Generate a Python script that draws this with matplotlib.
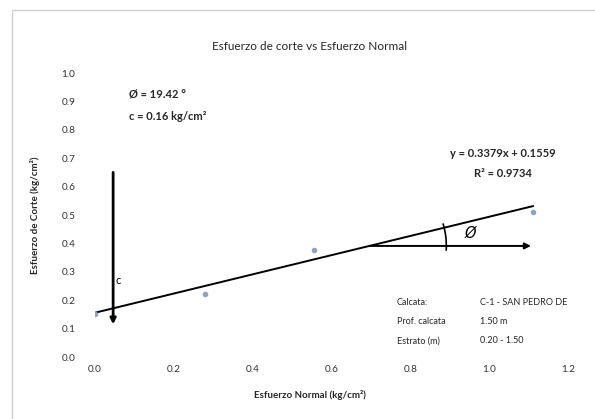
import numpy as np
import matplotlib
matplotlib.use("Agg")
import matplotlib.pyplot as plt
from matplotlib.patches import Arc, Rectangle

# Direct shear test results
normal_stress = [0.0, 0.278, 0.556, 1.111]      # kg/cm2
shear_stress = [0.151, 0.222, 0.377, 0.511]     # kg/cm2

# Linear trend (Mohr-Coulomb envelope)
slope = 0.3379
intercept = 0.1559
r2 = 0.9734
phi_deg = 19.42
cohesion = 0.16

x_ticks = [0.0, 0.2, 0.4, 0.6, 0.8, 1.0, 1.2]
y_ticks = [0.0, 0.1, 0.2, 0.3, 0.4, 0.5, 0.6, 0.7, 0.8, 0.9, 1.0]

info_labels = ["Calcata:", "Prof. calcata", "Estrato (m)"]
info_values = ["C-1 - SAN PEDRO DE", "1.50 m", "0.20 - 1.50"]

plt.rcParams["font.family"] = ["Lato", "DejaVu Sans"]
txt = "#262626"

fig = plt.figure(figsize=(5.95, 4.19), dpi=100)
fig.patch.set_facecolor("white")
# chart frame
fig.patches.append(Rectangle((12 / 595, -0.1), 1.2, 1 - 10 / 419 + 0.1,
                             transform=fig.transFigure, fill=False,
                             edgecolor="#d0d0d0", linewidth=1.0))

ax = fig.add_axes([95 / 595, 1 - 357 / 419, (568 - 95) / 595, (357 - 73) / 419])
ax.set_xlim(0, 1.2)
ax.set_ylim(0, 1.0)
for s in ax.spines.values():
    s.set_visible(False)
ax.set_xticks(x_ticks)
ax.set_yticks(y_ticks)
ax.set_xticklabels([f"{v:.1f}" for v in x_ticks])
ax.set_yticklabels([f"{v:.1f}" for v in y_ticks])
ax.tick_params(length=0, labelsize=7.2, colors="#333333", pad=6)
ax.tick_params(axis="y", pad=14)

# trend line
xs = np.array([min(normal_stress), max(normal_stress)])
ax.plot(xs, slope * xs + intercept, color="black", lw=1.4, zorder=2)
# measured points
ax.plot(normal_stress, shear_stress, "o", color="#8fa3bb", ms=3, zorder=3)

# cohesion arrow
ax.annotate("", xy=(0.046, 0.115), xytext=(0.046, 0.65),
            arrowprops=dict(arrowstyle="-|>", color="black", lw=2.0,
                            mutation_scale=8, shrinkA=0, shrinkB=0))
ax.text(0.052, 0.27, "c", fontsize=8, color="black", ha="left", va="center")

# friction angle construction
x0 = 0.696
y0 = slope * x0 + intercept
ax.annotate("", xy=(1.106, y0), xytext=(x0, y0),
            arrowprops=dict(arrowstyle="-|>", color="black", lw=1.4,
                            mutation_scale=9, shrinkA=0, shrinkB=0))
r_px = 77
px_per_x = ax.get_position().width * 595 / 1.2
px_per_y = ax.get_position().height * 419 / 1.0
ax.add_patch(Arc((x0, y0), 2 * r_px / px_per_x, 2 * r_px / px_per_y,
                 theta1=-5, theta2=23, color="black", lw=1.2))
ax.text(0.953, 0.437, "Ø", fontsize=10.5, ha="center", va="center",
        color="black", family=["DejaVu Sans"], style="italic")

# annotations
ax.text(0.085, 0.925, f"Ø = {phi_deg:.2f} °", fontsize=8, fontweight="bold",
        color=txt, ha="left", va="center")
ax.text(0.085, 0.848, f"c = {cohesion:.2f} kg/cm²", fontsize=8,
        fontweight="bold", color=txt, ha="left", va="center")
ax.text(1.035, 0.717, f"y = {slope:.4f}x + {intercept:.4f}", fontsize=8,
        fontweight="bold", color=txt, ha="center", va="center")
ax.text(1.035, 0.647, f"R² = {r2:.4f}", fontsize=8, fontweight="bold",
        color=txt, ha="center", va="center")

for i, (lab, val) in enumerate(zip(info_labels, info_values)):
    yy = 0.193 - i * 0.068
    ax.text(0.765, yy, lab, fontsize=6.5, color=txt, ha="left", va="center")
    ax.text(0.978, yy, val, fontsize=6.5, color=txt, ha="left", va="center",
            clip_on=False)

fig.text(310 / 595, 1 - 46 / 419, "Esfuerzo de corte vs Esfuerzo Normal",
         fontsize=8.5, color=txt, ha="center", va="center")
fig.text(310 / 595, 1 - 395 / 419, "Esfuerzo Normal (kg/cm²)", fontsize=7,
         fontweight="bold", color=txt, ha="center", va="center")
fig.text(35 / 595, 1 - 215 / 419, "Esfuerzo de Corte (kg/cm²)", fontsize=7,
         fontweight="bold", color=txt, ha="center", va="center", rotation=90)

fig.savefig("out.png", dpi=100, facecolor="white")
